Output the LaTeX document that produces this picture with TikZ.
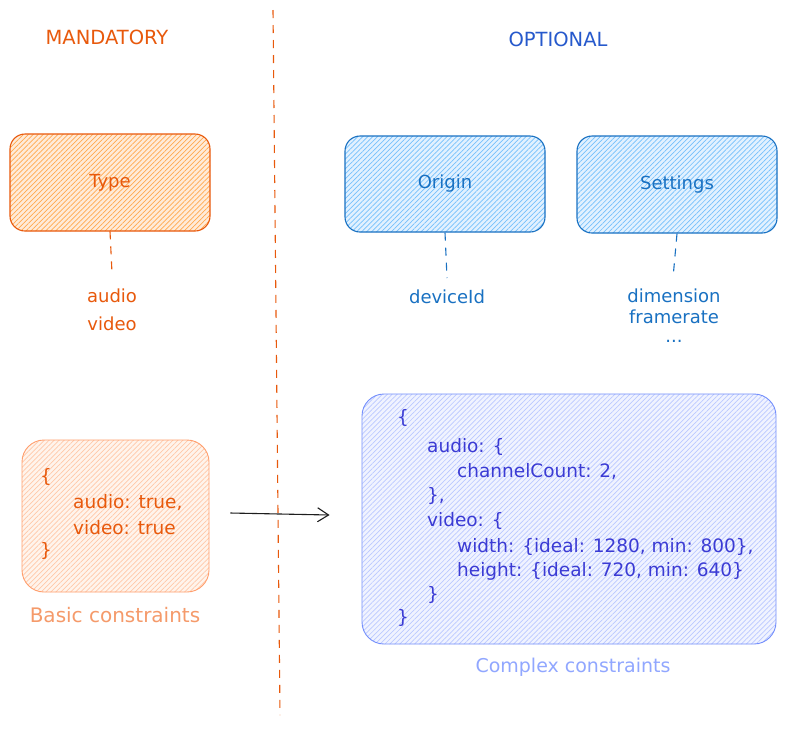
\documentclass[tikz,border=0pt]{standalone}
\usepackage{fontspec}
\setmainfont{DejaVu Sans}
\usetikzlibrary{arrows.meta,patterns.meta}
\definecolor{orD}{HTML}{E8590C}
\definecolor{orHatch}{HTML}{FFA94D}
\definecolor{orPale}{HTML}{FFEBD9}
\definecolor{orL}{HTML}{FF9F6E}
\definecolor{orLHatch}{HTML}{FFC8A8}
\definecolor{orLPale}{HTML}{FFF4EC}
\definecolor{orLText}{HTML}{F59A6A}
\definecolor{blD}{HTML}{1971C2}
\definecolor{blHatch}{HTML}{74C0FC}
\definecolor{blPale}{HTML}{E2F1FF}
\definecolor{blOpt}{HTML}{2659CC}
\definecolor{inS}{HTML}{748FFC}
\definecolor{inHatch}{HTML}{BAC8FF}
\definecolor{inPale}{HTML}{F0F3FF}
\definecolor{inText}{HTML}{3B3BD4}
\definecolor{inL}{HTML}{91A7FF}
\definecolor{ink}{HTML}{1E1E1E}
\tikzset{
  hbox/.style n args={3}{draw=#1, line width=1.1pt, rounded corners=15pt,
    preaction={fill=#3},
    pattern={Lines[angle=45,distance=3.5pt,line width=0.7pt]}, pattern color=#2},
  lbl/.style={font=\fontsize{18}{20}\selectfont, inner sep=0pt},
  head/.style={font=\fontsize{19.5}{22}\selectfont, inner sep=0pt},
  code/.style={font=\fontsize{18.5}{20}\selectfont, inner sep=0pt, anchor=west},
  dashlink/.style={line width=1.1pt, dash pattern=on 8pt off 7pt},
}
\begin{document}
\begin{tikzpicture}[x=1pt,y=-1pt]
\useasboundingbox[fill=white] (0,0) rectangle (786,732);

% divider
\coordinate (divtop) at (273,10);
\coordinate (divbot) at (280,715);
\draw[orD, dashlink] (divtop) -- (divbot);

% headings
\node[head, text=orD] (mand) at (107,37) {MANDATORY};
\node[head, text=blOpt] (opt) at (558,39) {OPTIONAL};

% top boxes
\node[hbox={orD}{orHatch}{orPale}, minimum width=200pt, minimum height=97pt, text=orD, lbl] (type) at (110,182.5) {Type};
\node[hbox={blD}{blHatch}{blPale}, minimum width=200pt, minimum height=96pt, text=blD, lbl] (origin) at (445,184) {Origin};
\node[hbox={blD}{blHatch}{blPale}, minimum width=200pt, minimum height=97pt, text=blD, lbl] (settings) at (677,184.5) {Settings};

% values
\node[lbl, text=orD] (audio) at (112,296) {audio};
\node[lbl, text=orD] (video) at (112,324) {video};
\node[lbl, text=blD] (devid) at (447,297) {deviceId};
\node[lbl, text=blD] (dim) at (674,296) {dimension};
\node[lbl, text=blD] (fr) at (674,317) {framerate};
\node[lbl, text=blD, anchor=base] (dots) at (674,342) {...};

\coordinate (tEnd) at (112,273);
\coordinate (oEnd) at (447,278);
\coordinate (sEnd) at (673,278);
\draw[orD, dashlink] (type.south) -- (tEnd);
\draw[blD, dashlink] (origin.south) -- (oEnd);
\draw[blD, dashlink] (settings.south) -- (sEnd);

% basic constraints
\node[hbox={orL}{orLHatch}{orLPale}, line width=0.9pt, minimum width=187pt, minimum height=152pt, rounded corners=22pt] (basic) at (115.5,516) {};
\node[code, text=orD] (b1) at (40,477) {\{};
\node[code, text=orD] (b2) at (73,503) {audio: true,};
\node[code, text=orD] (b3) at (73,528) {video: true};
\node[code, text=orD] (b4) at (40,551) {\}};
\node[lbl, text=orLText, font=\fontsize{20}{22}\selectfont] (basiclbl) at (115,615) {Basic constraints};

% complex constraints
\node[hbox={inS}{inHatch}{inPale}, line width=0.9pt, minimum width=414pt, minimum height=250pt, rounded corners=22pt] (complex) at (569,519) {};
\node[code, text=inText] (c1) at (397,418) {\{};
\node[code, text=inText] (c2) at (427,447) {audio: \{};
\node[code, text=inText] (c3) at (457,472) {channelCount: 2,};
\node[code, text=inText] (c4) at (427,496) {\},};
\node[code, text=inText] (c5) at (427,521) {video: \{};
\node[code, text=inText] (c6) at (457,547) {width: \{ideal: 1280, min: 800\},};
\node[code, text=inText] (c7) at (457,571) {height: \{ideal: 720, min: 640\}};
\node[code, text=inText] (c8) at (427,595) {\}};
\node[code, text=inText] (c9) at (397,618) {\}};
\node[lbl, text=inL, font=\fontsize{19}{22}\selectfont] (complexlbl) at (573,667) {Complex constraints};

% arrow
\draw[ink, line width=1.1pt, -{Straight Barb[length=11pt,width=14pt,line width=1.1pt]}]
  ([xshift=21pt,yshift=3pt]basic.east) -- ([xshift=-32pt,yshift=4pt]complex.west);
\end{tikzpicture}
\end{document}
